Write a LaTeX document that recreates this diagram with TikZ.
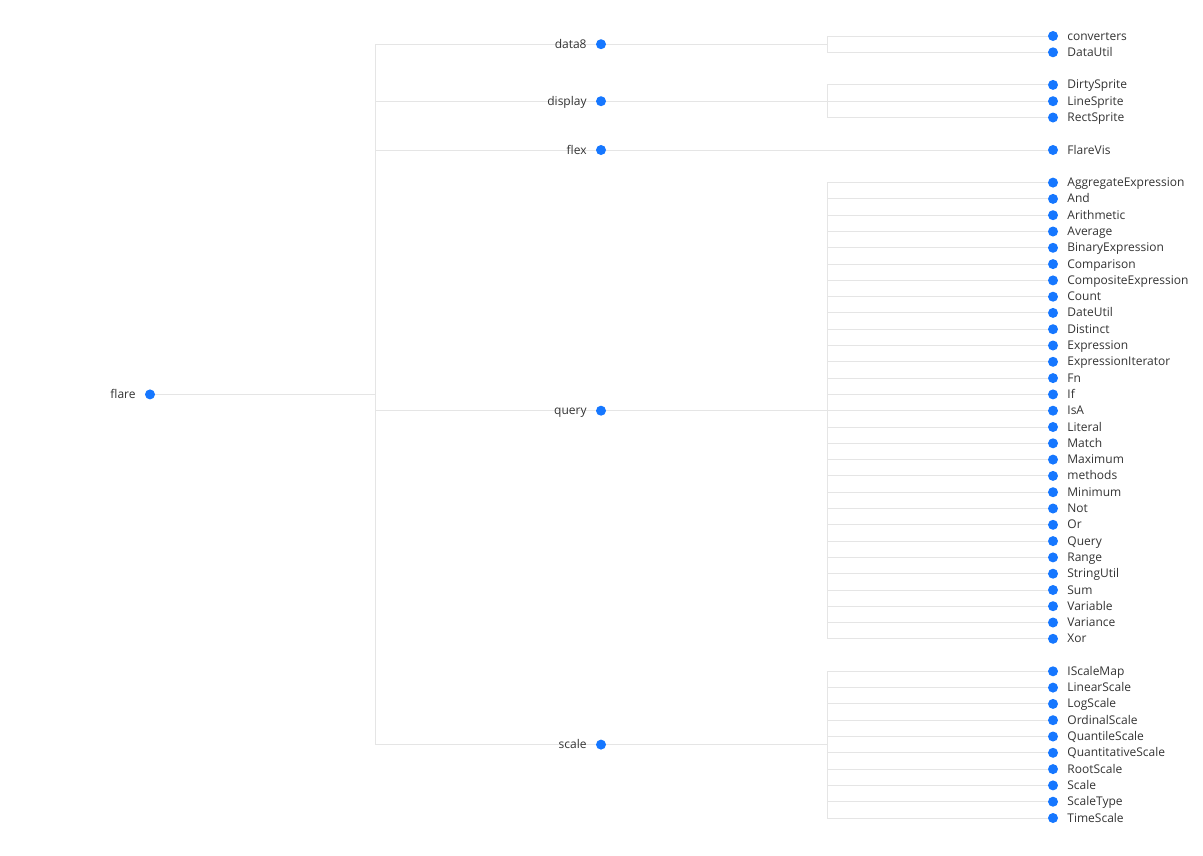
\documentclass[tikz,border=0pt]{standalone}
\usepackage{fontspec}
\setmainfont{Open Sans}
\usetikzlibrary{positioning,backgrounds}
\definecolor{dotblue}{RGB}{22,119,255}
\definecolor{linkgray}{RGB}{229,229,229}
\definecolor{textgray}{RGB}{51,51,51}

\begin{document}
\begin{tikzpicture}[x=1pt,y=-1pt,label distance=9pt]
\tikzstyle{dot}=[circle, fill=dotblue, inner sep=0pt, minimum size=10pt]
\tikzstyle{every label}=[text=textgray, inner sep=0pt, text height=8.6pt, text depth=2.6pt, yshift=-1pt, font=\fontsize{12}{14}\selectfont]
\tikzstyle{connect}=[draw=linkgray, line width=1pt]
\tikzstyle{elbow}=[connect, to path={|- (\tikztotarget)}]

	\useasboundingbox (0,0) rectangle (1203,855);

	\node[dot, label=left:flare] (flare) at (150,394.4) []{};

	\node[dot, label=left:data8] (data8) at (601,44.2) []{};
	\node[dot, label=left:display] (display) at (601,101.2) []{};
	\node[dot, label=left:flex] (flex) at (601,150) []{};
	\node[dot, label=left:query] (query) at (601,410.7) []{};
	\node[dot, label=left:scale] (scale) at (601,744.6) []{};

	\coordinate (j_flare) at (375,394.4);
	\coordinate (j_data8) at (827,44.2);
	\coordinate (j_display) at (827,101.2);
	\coordinate (j_flex) at (827,150);
	\coordinate (j_query) at (827,410.7);
	\coordinate (j_scale) at (827,744.6);

	% data8
	\node[dot, label=right:converters] (l_converters) at (1053,36) []{};
	\node[dot, label=right:DataUtil] (l_DataUtil) at (1053,52.3) []{};
	% display
	\node[dot, label=right:DirtySprite] (l_DirtySprite) at (1053,84.9) []{};
	\node[dot, label=right:LineSprite] (l_LineSprite) at (1053,101.2) []{};
	\node[dot, label=right:RectSprite] (l_RectSprite) at (1053,117.5) []{};
	% flex
	\node[dot, label=right:FlareVis] (l_FlareVis) at (1053,150) []{};
	% query
	\node[dot, label=right:AggregateExpression] (l_AggregateExpression) at (1053,182.6) []{};
	\node[dot, label=right:And] (l_And) at (1053,198.9) []{};
	\node[dot, label=right:Arithmetic] (l_Arithmetic) at (1053,215.2) []{};
	\node[dot, label=right:Average] (l_Average) at (1053,231.5) []{};
	\node[dot, label=right:BinaryExpression] (l_BinaryExpression) at (1053,247.8) []{};
	\node[dot, label=right:Comparison] (l_Comparison) at (1053,264.1) []{};
	\node[dot, label=right:CompositeExpression] (l_CompositeExpression) at (1053,280.4) []{};
	\node[dot, label=right:Count] (l_Count) at (1053,296.7) []{};
	\node[dot, label=right:DateUtil] (l_DateUtil) at (1053,312.9) []{};
	\node[dot, label=right:Distinct] (l_Distinct) at (1053,329.2) []{};
	\node[dot, label=right:Expression] (l_Expression) at (1053,345.5) []{};
	\node[dot, label=right:ExpressionIterator] (l_ExpressionIterator) at (1053,361.8) []{};
	\node[dot, label=right:Fn] (l_Fn) at (1053,378.1) []{};
	\node[dot, label=right:If] (l_If) at (1053,394.4) []{};
	\node[dot, label=right:IsA] (l_IsA) at (1053,410.7) []{};
	\node[dot, label=right:Literal] (l_Literal) at (1053,427) []{};
	\node[dot, label=right:Match] (l_Match) at (1053,443.3) []{};
	\node[dot, label=right:Maximum] (l_Maximum) at (1053,459.6) []{};
	\node[dot, label=right:methods] (l_methods) at (1053,475.9) []{};
	\node[dot, label=right:Minimum] (l_Minimum) at (1053,492.2) []{};
	\node[dot, label=right:Not] (l_Not) at (1053,508.5) []{};
	\node[dot, label=right:Or] (l_Or) at (1053,524.8) []{};
	\node[dot, label=right:Query] (l_Query) at (1053,541.1) []{};
	\node[dot, label=right:Range] (l_Range) at (1053,557.4) []{};
	\node[dot, label=right:StringUtil] (l_StringUtil) at (1053,573.7) []{};
	\node[dot, label=right:Sum] (l_Sum) at (1053,590) []{};
	\node[dot, label=right:Variable] (l_Variable) at (1053,606.2) []{};
	\node[dot, label=right:Variance] (l_Variance) at (1053,622.5) []{};
	\node[dot, label=right:Xor] (l_Xor) at (1053,638.8) []{};
	% scale
	\node[dot, label=right:IScaleMap] (l_IScaleMap) at (1053,671.3) []{};
	\node[dot, label=right:LinearScale] (l_LinearScale) at (1053,687.6) []{};
	\node[dot, label=right:LogScale] (l_LogScale) at (1053,703.9) []{};
	\node[dot, label=right:OrdinalScale] (l_OrdinalScale) at (1053,720.2) []{};
	\node[dot, label=right:QuantileScale] (l_QuantileScale) at (1053,736.5) []{};
	\node[dot, label=right:QuantitativeScale] (l_QuantitativeScale) at (1053,752.8) []{};
	\node[dot, label=right:RootScale] (l_RootScale) at (1053,769.1) []{};
	\node[dot, label=right:Scale] (l_Scale) at (1053,785.4) []{};
	\node[dot, label=right:ScaleType] (l_ScaleType) at (1053,801.7) []{};
	\node[dot, label=right:TimeScale] (l_TimeScale) at (1053,818) []{};

	\begin{scope}[on background layer]
	\path
	 (flare) edge[connect] (j_flare)
	 (j_flare) edge[elbow] (data8.center)
	 (j_flare) edge[elbow] (display.center)
	 (j_flare) edge[elbow] (flex.center)
	 (j_flare) edge[elbow] (query.center)
	 (j_flare) edge[elbow] (scale.center)
	 (data8) edge[connect] (j_data8)
	 (display) edge[connect] (j_display)
	 (flex) edge[connect] (j_flex)
	 (query) edge[connect] (j_query)
	 (scale) edge[connect] (j_scale)
	 (j_data8) edge[elbow] (l_converters)
	 (j_data8) edge[elbow] (l_DataUtil)
	 (j_display) edge[elbow] (l_DirtySprite)
	 (j_display) edge[elbow] (l_LineSprite)
	 (j_display) edge[elbow] (l_RectSprite)
	 (j_flex) edge[elbow] (l_FlareVis)
	 (j_query) edge[elbow] (l_AggregateExpression)
	 (j_query) edge[elbow] (l_And)
	 (j_query) edge[elbow] (l_Arithmetic)
	 (j_query) edge[elbow] (l_Average)
	 (j_query) edge[elbow] (l_BinaryExpression)
	 (j_query) edge[elbow] (l_Comparison)
	 (j_query) edge[elbow] (l_CompositeExpression)
	 (j_query) edge[elbow] (l_Count)
	 (j_query) edge[elbow] (l_DateUtil)
	 (j_query) edge[elbow] (l_Distinct)
	 (j_query) edge[elbow] (l_Expression)
	 (j_query) edge[elbow] (l_ExpressionIterator)
	 (j_query) edge[elbow] (l_Fn)
	 (j_query) edge[elbow] (l_If)
	 (j_query) edge[elbow] (l_IsA)
	 (j_query) edge[elbow] (l_Literal)
	 (j_query) edge[elbow] (l_Match)
	 (j_query) edge[elbow] (l_Maximum)
	 (j_query) edge[elbow] (l_methods)
	 (j_query) edge[elbow] (l_Minimum)
	 (j_query) edge[elbow] (l_Not)
	 (j_query) edge[elbow] (l_Or)
	 (j_query) edge[elbow] (l_Query)
	 (j_query) edge[elbow] (l_Range)
	 (j_query) edge[elbow] (l_StringUtil)
	 (j_query) edge[elbow] (l_Sum)
	 (j_query) edge[elbow] (l_Variable)
	 (j_query) edge[elbow] (l_Variance)
	 (j_query) edge[elbow] (l_Xor)
	 (j_scale) edge[elbow] (l_IScaleMap)
	 (j_scale) edge[elbow] (l_LinearScale)
	 (j_scale) edge[elbow] (l_LogScale)
	 (j_scale) edge[elbow] (l_OrdinalScale)
	 (j_scale) edge[elbow] (l_QuantileScale)
	 (j_scale) edge[elbow] (l_QuantitativeScale)
	 (j_scale) edge[elbow] (l_RootScale)
	 (j_scale) edge[elbow] (l_Scale)
	 (j_scale) edge[elbow] (l_ScaleType)
	 (j_scale) edge[elbow] (l_TimeScale);
	\end{scope}

\end{tikzpicture}
\end{document}
